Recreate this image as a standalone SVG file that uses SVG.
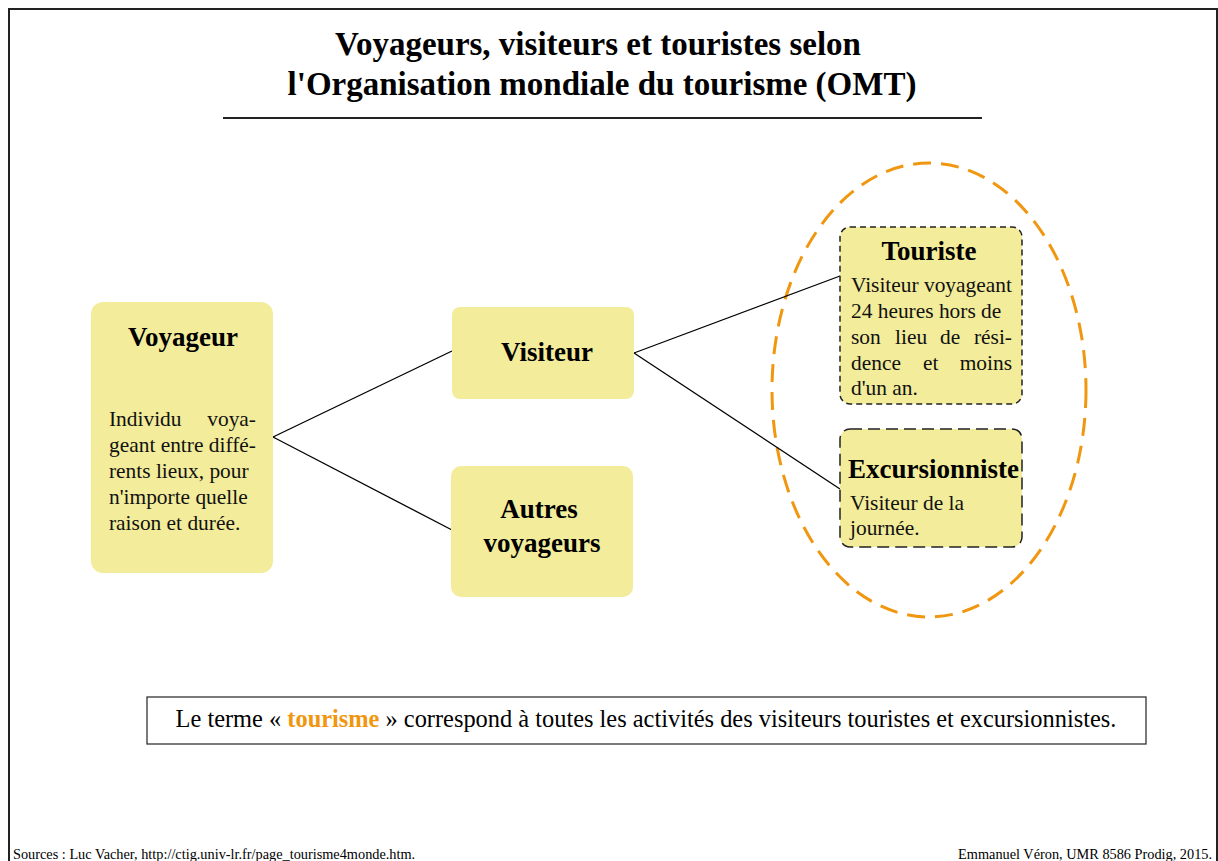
<svg xmlns="http://www.w3.org/2000/svg" width="1218" height="861" viewBox="0 0 1218 861">
<style>
.box{fill:#f3ec9a;}
.dbox{fill:#f3ec9a;stroke:#222;stroke-width:1.5;stroke-dasharray:6 4;}
.hd{font-family:"Liberation Serif",serif;font-weight:bold;font-size:27px;fill:#000;}
.bd{font-family:"Liberation Serif",serif;font-size:21.4px;fill:#111;}
.conn line{stroke:#000;stroke-width:1.3;}
.ft{font-family:"Liberation Serif",serif;font-size:14.3px;fill:#000;}
</style>
<rect x="0" y="0" width="1218" height="861" fill="#fff"/>
<path d="M9,870 V9 H1217 V870" fill="none" stroke="#222" stroke-width="2"/>
<g id="title">
<text x="598" y="55" text-anchor="middle" font-family="Liberation Serif,serif" font-weight="bold" font-size="33">Voyageurs, visiteurs et touristes selon</text>
<text x="602" y="95" text-anchor="middle" font-family="Liberation Serif,serif" font-weight="bold" font-size="33">l'Organisation mondiale du tourisme (OMT)</text>
<line x1="223" y1="118" x2="982" y2="118" stroke="#222" stroke-width="2"/>
</g>
<g id="ellipse-tourisme">
<ellipse cx="929" cy="390" rx="157" ry="227" fill="none" stroke="#f0960f" stroke-width="3" stroke-dasharray="18 10"/>
</g>
<g class="conn" id="connectors">
<line x1="273" y1="437" x2="452" y2="351"/>
<line x1="273" y1="437" x2="452" y2="530"/>
<line x1="634" y1="353" x2="840" y2="276"/>
<line x1="634" y1="353" x2="840" y2="489"/>
</g>
<g id="voyageur">
<rect class="box" x="91" y="302" width="182" height="271" rx="12"/>
<text class="hd" x="183" y="346" text-anchor="middle">Voyageur</text>
<text class="bd" x="109" y="426">Individu</text>
<text class="bd" x="256" y="426" text-anchor="end">voya-</text>
<text class="bd" x="109" y="452">geant entre diffé-</text>
<text class="bd" x="109" y="478">rents lieux, pour</text>
<text class="bd" x="109" y="504">n'importe quelle</text>
<text class="bd" x="109" y="530">raison et durée.</text>
</g>
<g id="visiteur">
<rect class="box" x="452" y="307" width="182" height="92" rx="8"/>
<text class="hd" x="547" y="361" text-anchor="middle">Visiteur</text>
</g>
<g id="autres-voyageurs">
<rect class="box" x="451" y="466" width="182" height="131" rx="10"/>
<text class="hd" x="539" y="518" text-anchor="middle">Autres</text>
<text class="hd" x="542" y="552" text-anchor="middle">voyageurs</text>
</g>
<g id="touriste">
<rect class="dbox" x="840" y="227" width="182" height="177" rx="10"/>
<text class="hd" x="929" y="260" text-anchor="middle">Touriste</text>
<text class="bd" x="851" y="292">Visiteur voyageant</text>
<text class="bd" x="851" y="318">24 heures hors de</text>
<text class="bd" x="851" y="344">son</text>
<text class="bd" x="895" y="344">lieu</text>
<text class="bd" x="940" y="344">de</text>
<text class="bd" x="1012" y="344" text-anchor="end">rési-</text>
<text class="bd" x="851" y="370">dence</text>
<text class="bd" x="923" y="370">et</text>
<text class="bd" x="1012" y="370" text-anchor="end">moins</text>
<text class="bd" x="851" y="395">d'un an.</text>
</g>
<g id="excursionniste">
<rect class="dbox" x="840" y="429" width="182" height="118" rx="10" style="stroke-dasharray:12 6"/>
<text class="hd" x="848" y="478">Excursionniste</text>
<text class="bd" x="850" y="510">Visiteur de la</text>
<text class="bd" x="850" y="535">journée.</text>
</g>
<g id="note">
<rect x="147" y="697" width="999" height="47" fill="#fff" stroke="#333" stroke-width="1.3"/>
<text x="646" y="727" text-anchor="middle" font-family="Liberation Serif,serif" font-size="24.4" fill="#000">Le terme « <tspan font-weight="bold" fill="#f0960f">tourisme</tspan> » correspond à toutes les activités des visiteurs touristes et excursionnistes.</text>
</g>
<g id="footer">
<text class="ft" x="13" y="859">Sources : Luc Vacher, http://ctig.univ-lr.fr/page_tourisme4monde.htm.</text>
<text class="ft" x="1212" y="859" text-anchor="end">Emmanuel Véron, UMR 8586 Prodig, 2015.</text>
</g>
</svg>
